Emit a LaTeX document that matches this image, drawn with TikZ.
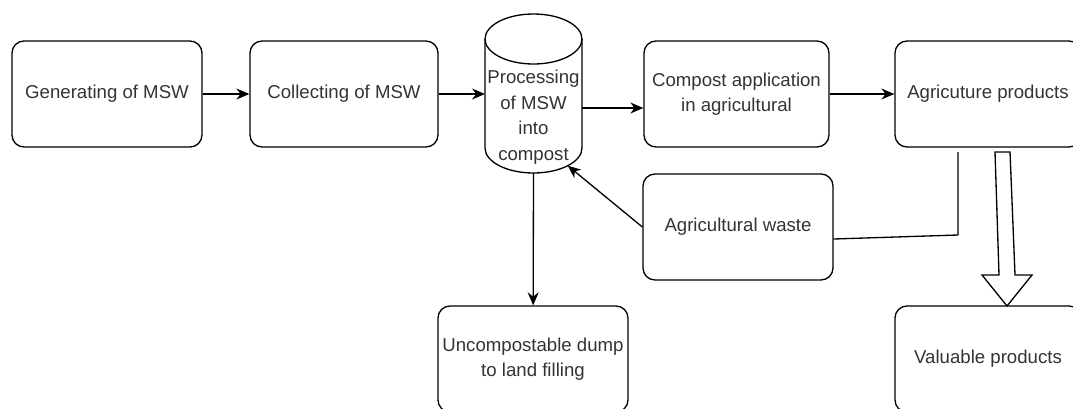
\documentclass[tikz,border=0pt]{standalone}
\usepackage{fontspec}
\setmainfont{Liberation Sans}
\usetikzlibrary{arrows.meta}
\definecolor{txtgray}{RGB}{51,51,51}
\begin{document}
\begin{tikzpicture}[>={Stealth[length=2.6mm,width=2.2mm]}, line width=0.75pt, line join=round,
	font=\fontsize{10.6}{14.5}\selectfont,
	box/.style={draw, rounded corners=0.24cm, minimum height=2.12cm, text=txtgray, align=center, inner sep=1pt}]
	\useasboundingbox (0,0) rectangle (21.46,8.16);
	\clip (0,0) rectangle (21.46,8.16);
	% boxes
	\node[box, minimum width=3.8cm] (gen) at (2.14,6.28) {Generating of MSW};
	\node[box, minimum width=3.76cm] (coll) at (6.88,6.28) {Collecting of MSW};
	\node[box, minimum width=3.7cm] (comp) at (14.73,6.28) {Compost application\\in agricultural};
	\node[box, minimum width=3.72cm] (agri) at (19.76,6.28) {Agricuture products};
	\node[box, minimum width=3.8cm] (waste) at (14.76,3.62) {Agricultural waste};
	\node[box, minimum width=3.8cm] (dump) at (10.66,0.98) {Uncompostable dump\\to land filling};
	\node[box, minimum width=3.72cm] (val) at (19.76,0.98) {Valuable products};
	% cylinder
	\draw (9.70,7.38) -- (9.70,5.20) arc[start angle=180, end angle=360, x radius=0.97cm, y radius=0.5cm] -- (11.64,7.38);
	\draw (10.67,7.38) ellipse [x radius=0.97cm, y radius=0.5cm];
	\node[text=txtgray, align=center, inner sep=0pt] (proc) at (10.67,5.82) {Processing\\of MSW\\into\\compost};
	\coordinate (cylW) at (9.70,6.28);
	\coordinate (cylE) at (11.64,6.00);
	\coordinate (cylB) at (10.67,4.70);
	\coordinate (cylSE) at (11.356,4.846);
	% connectors
	\draw[->] (gen) -- (coll);
	\draw[->] (coll) -- (cylW);
	\draw[->] (cylE) -- (cylE -| comp.west);
	\draw[->] (comp) -- (agri);
	\draw[->] (cylB) -- (dump);
	\draw[->] (waste.west) -- (cylSE);
	\coordinate (turn) at (19.16,3.46);
	\coordinate (turnend) at (19.16,5.12);
	\draw ([yshift=-0.24cm]waste.east) -- (turn) -- (turnend);
	% hollow arrow
	\coordinate (fat) at (19.90,5.12);
	\draw[line join=miter] (fat) -- ++(0.30,0) -- (20.30,2.66) -- (20.64,2.66) -- (20.14,2.04)
		-- (19.64,2.66) -- (19.98,2.66) -- cycle;
\end{tikzpicture}
\end{document}
